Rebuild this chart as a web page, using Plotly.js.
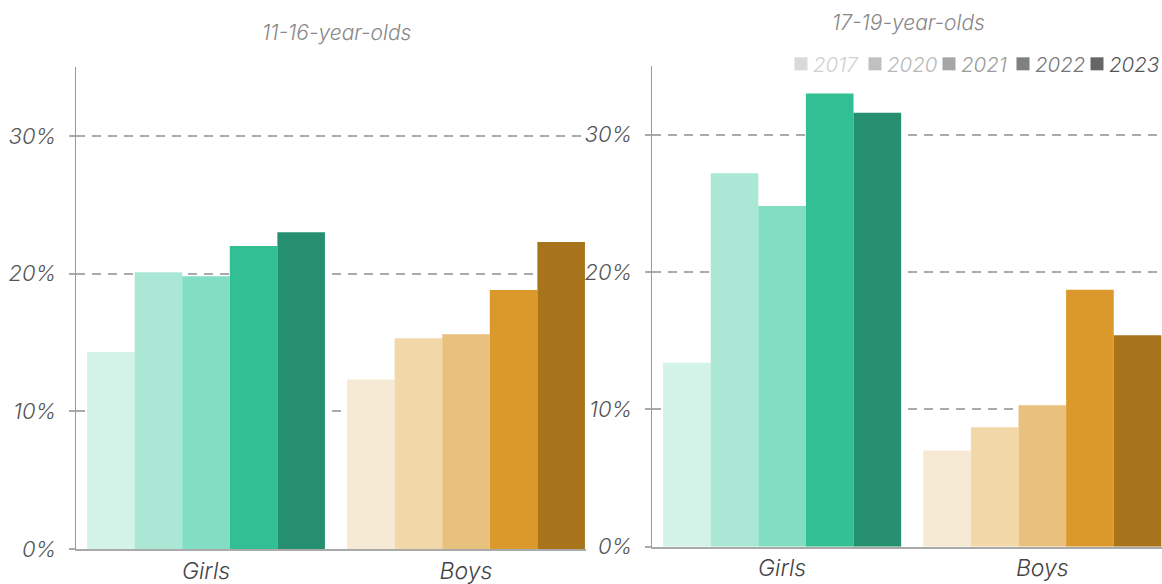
<!DOCTYPE html>
<html>
<head>
<meta charset="utf-8">
<script src="https://cdn.plot.ly/plotly-3.0.1.min.js"></script>
<style>html,body{margin:0;padding:0;background:#fff;}#chart{width:1162px;height:584px;}</style>
</head>
<body>
<div id="chart"></div>
<script>
const categories = ['Girls', 'Boys'];
const years = ['2017', '2020', '2021', '2022', '2023'];
const panelTitles = ['11-16-year-olds', '17-19-year-olds'];
const age11to16Girls = [14.3, 20.1, 19.8, 22.0, 23.0];
const age11to16Boys = [12.3, 15.3, 15.6, 18.8, 22.3];
const age17to19Girls = [13.4, 27.2, 24.8, 33.0, 31.6];
const age17to19Boys = [7.0, 8.7, 10.3, 18.7, 15.4];
const yTickValues = [0, 10, 20, 30];
const yTickLabels = ['0%', '10%', '20%', '30%'];

const girlColors = ['#d4f3e8', '#abe7d5', '#82dec3', '#33bf94', '#268f70'];
const boyColors = ['#f6ead4', '#f2d7a9', '#e8c17f', '#db982b', '#a7741b'];
const legendColors = ['#d9d9d9', '#c0c0c0', '#a6a6a6', '#808080', '#666666'];
const legendTextColors = ['#d0d0d0', '#b8b8b8', '#9a9a9a', '#777777', '#555555'];

const FONT = 'Inter, Roboto, "DejaVu Sans", sans-serif';
const traces = [];
years.forEach((yr, i) => {
  traces.push({
    type: 'bar', x: categories, y: [age11to16Girls[i], age11to16Boys[i]],
    xaxis: 'x', yaxis: 'y', showlegend: false, hoverinfo: 'skip',
    marker: {color: [girlColors[i], boyColors[i]], line: {width: 0}}
  });
  traces.push({
    type: 'bar', x: categories, y: [age17to19Girls[i], age17to19Boys[i]],
    xaxis: 'x2', yaxis: 'y2', showlegend: false, hoverinfo: 'skip',
    marker: {color: [girlColors[i], boyColors[i]], line: {width: 0}}
  });
});
years.forEach((yr, i) => {
  traces.push({
    type: 'scatter', mode: 'markers', x: [null], y: [null],
    xaxis: 'x2', yaxis: 'y2',
    name: '<span style="color:' + legendTextColors[i] + '">' + yr + '</span>',
    marker: {symbol: 'square', size: 13, color: legendColors[i]}
  });
});

const W = 1162, H = 584;
function yaxisDef(top, bottom) {
  return {
    domain: [(H - bottom) / H, (H - top) / H],
    range: [0, 35], fixedrange: true,
    tickmode: 'array', tickvals: yTickValues, ticktext: yTickLabels,
    showline: true, linecolor: '#9a9a9a', linewidth: 1.5,
    ticks: 'outside', ticklen: 6, tickcolor: '#aaaaaa', tickwidth: 2,
    ticklabelstandoff: 8,
    showgrid: true, gridcolor: '#aaaaaa', gridwidth: 2, griddash: '9px,7px',
    zeroline: false,
    tickfont: {family: FONT, size: 22, color: '#555555', style: 'italic', weight: 300}
  };
}
function xaxisDef(left, right, rmax) {
  return {
    domain: [left / W, right / W],
    range: [-0.5, rmax], fixedrange: true,
    showline: true, linecolor: '#aaaaaa', linewidth: 2,
    ticks: '', showgrid: false, zeroline: false,
    tickfont: {family: FONT, size: 23, color: '#444444', style: 'italic', weight: 300}
  };
}

const layout = {
  width: W, height: H,
  margin: {l: 0, r: 0, t: 0, b: 0, autoexpand: false},
  paper_bgcolor: '#ffffff', plot_bgcolor: 'rgba(0,0,0,0)',
  barmode: 'group', bargap: 0.085, bargroupgap: 0,
  font: {family: FONT},
  xaxis: xaxisDef(76, 585.6, 1.46),
  yaxis: yaxisDef(67, 549),
  xaxis2: Object.assign(xaxisDef(652, 1162, 1.46), {anchor: 'y2'}),
  yaxis2: Object.assign(yaxisDef(66, 546.7), {anchor: 'x2'}),
  showlegend: true,
  legend: {
    orientation: 'h', x: 773 / W, xanchor: 'left', y: 1 - 64 / H, yanchor: 'middle',
    entrywidth: 29, entrywidthmode: 'pixels', itemwidth: 30,
    font: {family: FONT, size: 20.5, color: '#777777', style: 'italic', weight: 300},
    bgcolor: 'rgba(0,0,0,0)', borderwidth: 0, itemclick: false, itemdoubleclick: false
  },
  annotations: [
    {text: panelTitles[0], xref: 'paper', yref: 'paper', x: 336 / W, y: 1 - 32 / H,
     xanchor: 'center', yanchor: 'middle', showarrow: false,
     font: {family: FONT, size: 21, color: '#888888', style: 'italic', weight: 300}},
    {text: panelTitles[1], xref: 'paper', yref: 'paper', x: 908 / W, y: 1 - 23 / H,
     xanchor: 'center', yanchor: 'middle', showarrow: false,
     font: {family: FONT, size: 21, color: '#888888', style: 'italic', weight: 300}}
  ]
};

Plotly.newPlot('chart', traces, layout, {displayModeBar: false, staticPlot: true}).then(function (gd) {
  // let the last legend label overflow its fixed-width entry instead of being clipped
  gd.querySelectorAll('.legend .scrollbox').forEach(function (g) { g.removeAttribute('clip-path'); });
  // sit each legend swatch closer to its label, as in the reference
  gd.querySelectorAll('.legend .legendpoints').forEach(function (g) {
    g.setAttribute('transform', ((g.getAttribute('transform') || '') + ' translate(8,0)').trim());
  });
});
</script>
</body>
</html>
